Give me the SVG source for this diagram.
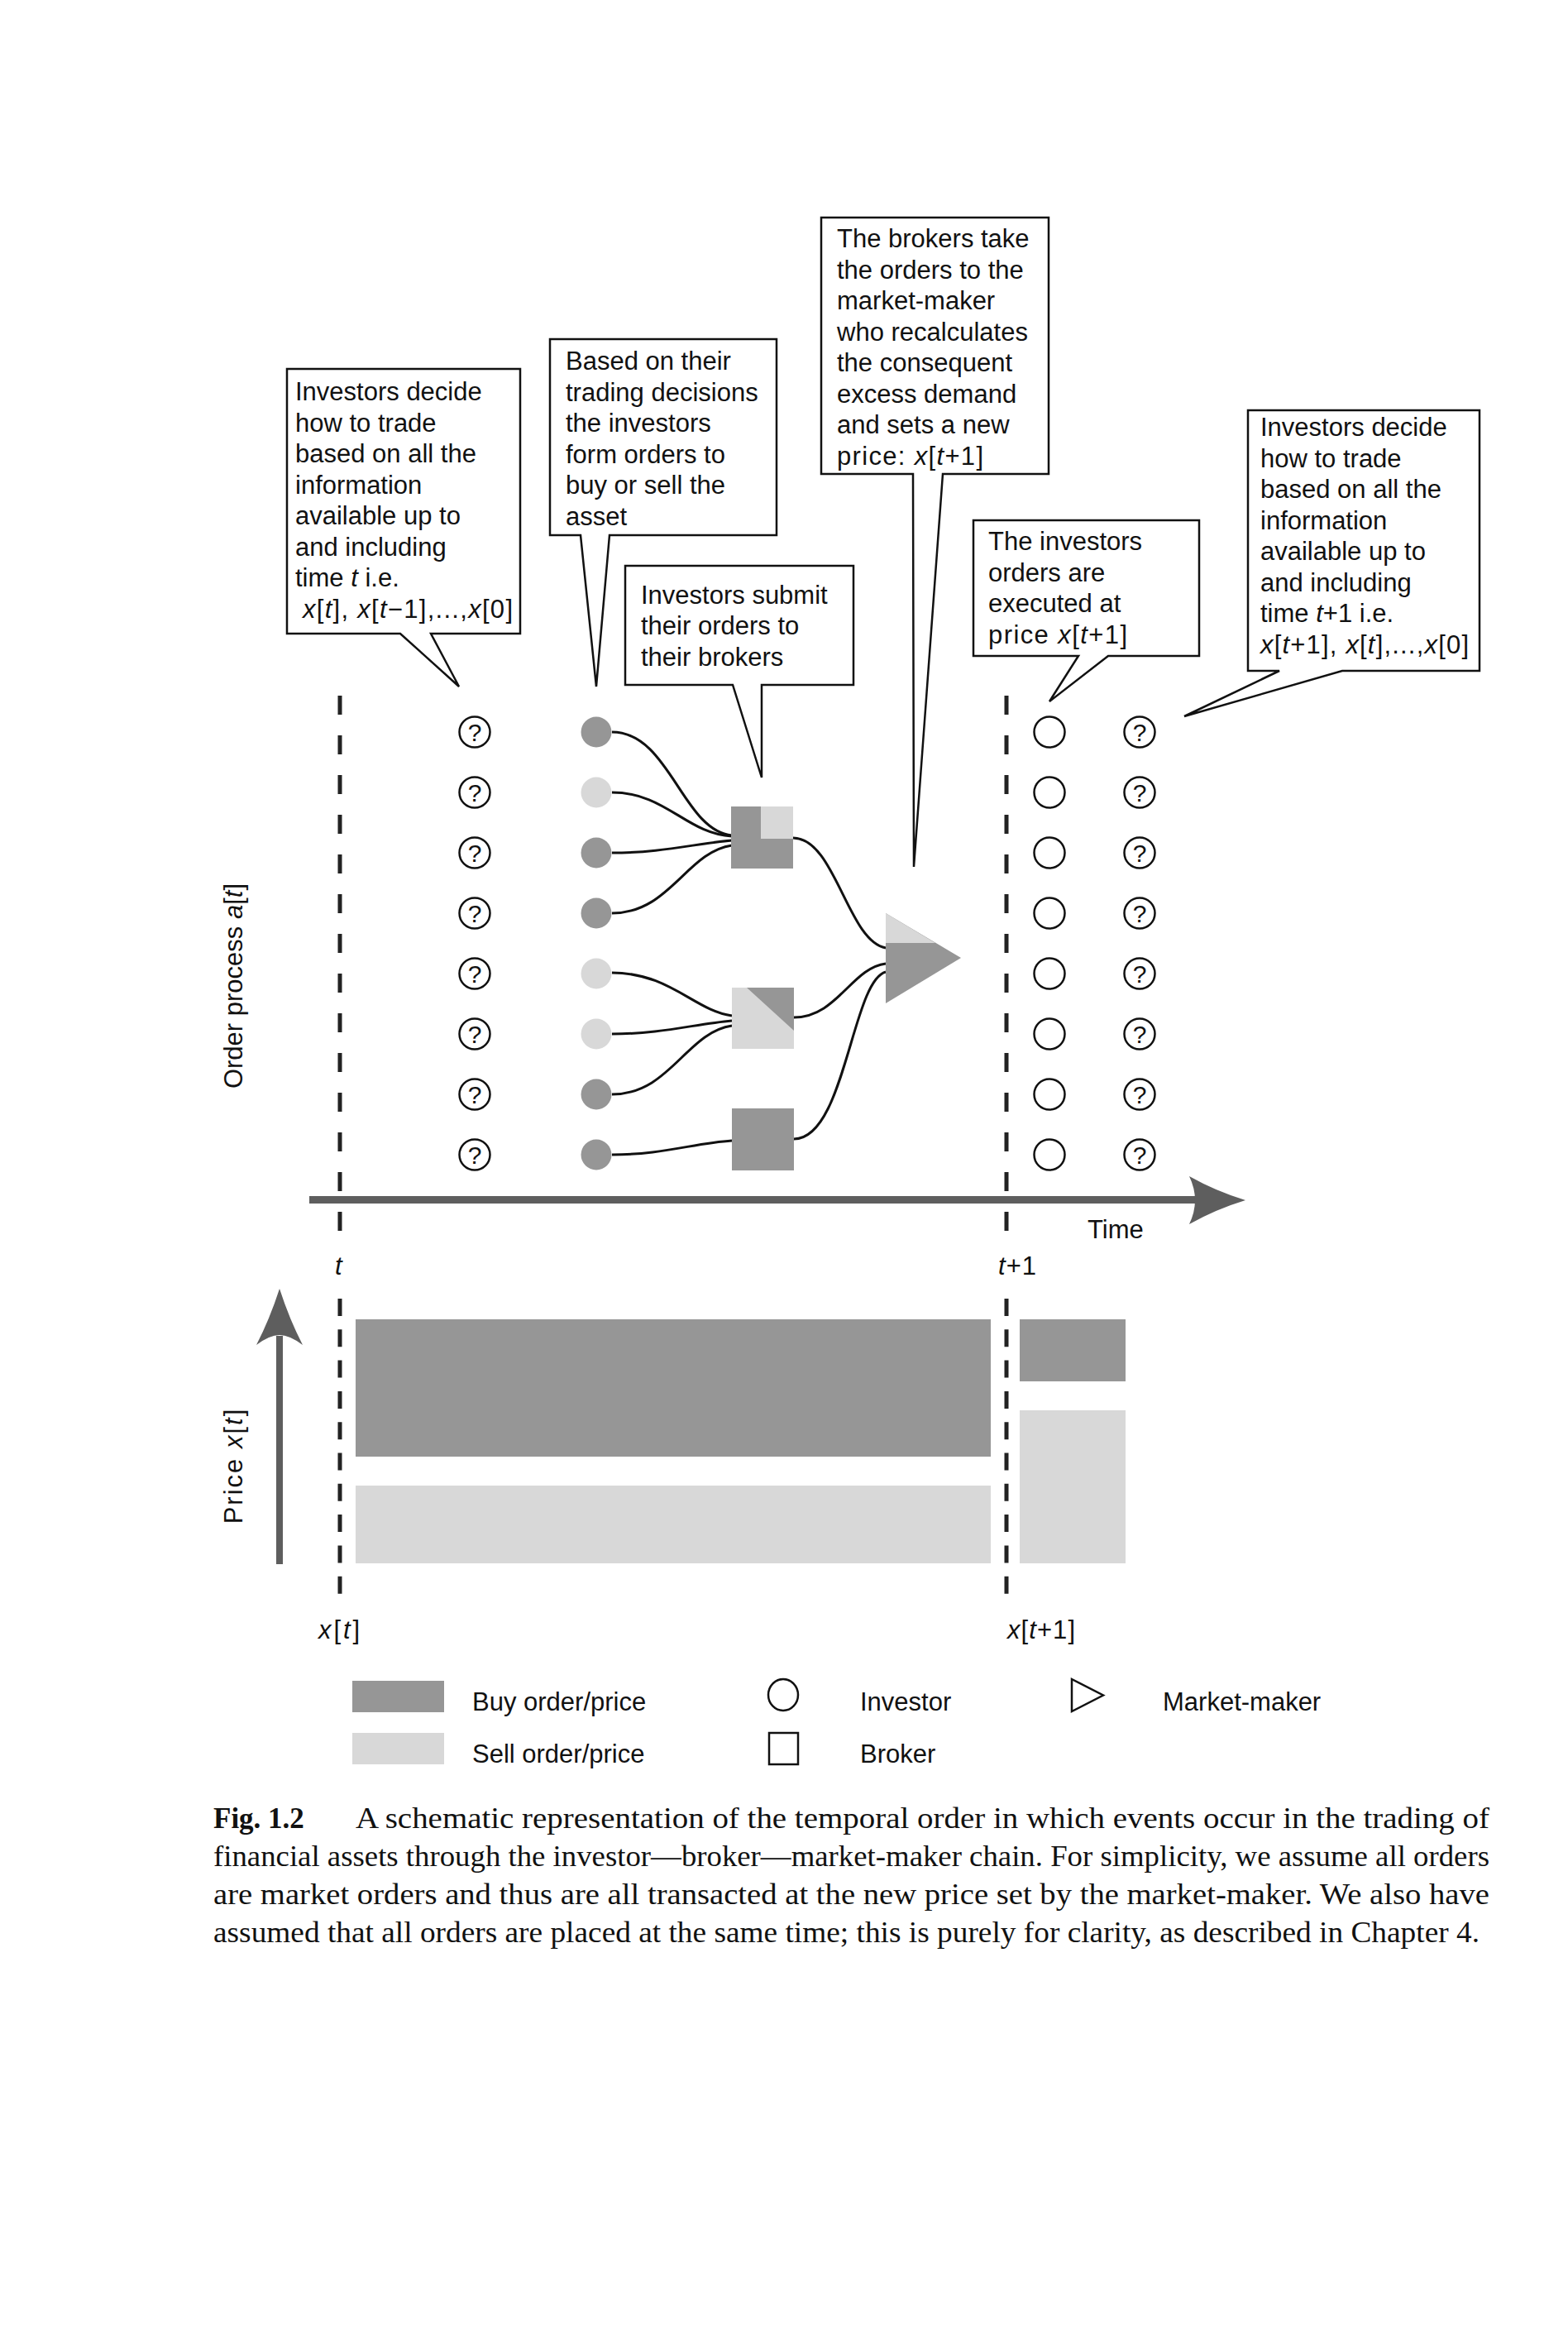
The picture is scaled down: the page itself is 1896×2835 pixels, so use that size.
<svg xmlns="http://www.w3.org/2000/svg" width="1896" height="2835" viewBox="0 0 1896 2835">
<style>
.bx{fill:#fff;stroke:#111;stroke-width:2.5;stroke-linejoin:miter}
.t{font-family:"Liberation Sans",Arial,sans-serif;font-size:31px;fill:#111}
.i{font-style:italic}
.q{font-family:"Liberation Sans",Arial,sans-serif;font-size:30px;fill:#111;text-anchor:middle}
.oc{fill:#fff;stroke:#111;stroke-width:2.5}
.dk{fill:#969696}
.lt{fill:#d8d8d8}
.cn{fill:none;stroke:#111;stroke-width:3}
.dash{stroke:#222;stroke-width:5;fill:none}
.cap{font-family:"Liberation Serif","Times New Roman",serif;font-size:35px;fill:#111}
</style>
<rect width="1896" height="2835" fill="#fff"/>

<!-- dashed time markers -->
<g id="markers">
<line class="dash" x1="411" y1="841" x2="411" y2="1489" stroke-dasharray="23 25"/>
<line class="dash" x1="411" y1="1570" x2="411" y2="1928" stroke-dasharray="21 16.3"/>
<line class="dash" x1="1217" y1="841" x2="1217" y2="1489" stroke-dasharray="23 25"/>
<line class="dash" x1="1217" y1="1570" x2="1217" y2="1928" stroke-dasharray="21 16.3"/>
</g>

<!-- callouts -->
<g id="callout-decide-t">
<path class="bx" d="M347,446 H629 V766 H521 L555,830 L484,766 H347 Z"/>
<text class="t" x="357" y="484">Investors decide</text>
<text class="t" x="357" y="521.5">how to trade</text>
<text class="t" x="357" y="559">based on all the</text>
<text class="t" x="357" y="596.5">information</text>
<text class="t" x="357" y="634">available up to</text>
<text class="t" x="357" y="671.5">and including</text>
<text class="t" x="357" y="709">time <tspan class="i">t</tspan> i.e.</text>
<text class="t" x="366" y="746.5" textLength="254" lengthAdjust="spacing"><tspan class="i">x</tspan>[<tspan class="i">t</tspan>], <tspan class="i">x</tspan>[<tspan class="i">t</tspan>−1],...,<tspan class="i">x</tspan>[0]</text>
</g>

<g id="callout-form-orders">
<path class="bx" d="M665,410 H939 V647 H737 L721,830 L702,647 H665 Z"/>
<text class="t" x="684" y="447">Based on their</text>
<text class="t" x="684" y="484.5">trading decisions</text>
<text class="t" x="684" y="522">the investors</text>
<text class="t" x="684" y="559.5">form orders to</text>
<text class="t" x="684" y="597">buy or sell the</text>
<text class="t" x="684" y="634.5">asset</text>
</g>

<g id="callout-submit">
<path class="bx" d="M756,684 H1032 V828 H921 L921,940 L886,828 H756 Z"/>
<text class="t" x="775" y="729.5">Investors submit</text>
<text class="t" x="775" y="767">their orders to</text>
<text class="t" x="775" y="804.5">their brokers</text>
</g>

<g id="callout-market-maker">
<path class="bx" d="M993,263 H1268 V573 H1140 L1105,1048 L1104,573 H993 Z"/>
<text class="t" x="1012" y="299">The brokers take</text>
<text class="t" x="1012" y="336.5">the orders to the</text>
<text class="t" x="1012" y="374">market-maker</text>
<text class="t" x="1012" y="411.5">who recalculates</text>
<text class="t" x="1012" y="449">the consequent</text>
<text class="t" x="1012" y="486.5">excess demand</text>
<text class="t" x="1012" y="524">and sets a new</text>
<text class="t" x="1012" y="561.5" textLength="177" lengthAdjust="spacing">price: <tspan class="i">x</tspan>[<tspan class="i">t</tspan>+1]</text>
</g>

<g id="callout-executed">
<path class="bx" d="M1177,629 H1450 V793 H1340 L1269,848 L1304,793 H1177 Z"/>
<text class="t" x="1195" y="665">The investors</text>
<text class="t" x="1195" y="702.5">orders are</text>
<text class="t" x="1195" y="740">executed at</text>
<text class="t" x="1195" y="777.5" textLength="168" lengthAdjust="spacing">price <tspan class="i">x</tspan>[<tspan class="i">t</tspan>+1]</text>
</g>

<g id="callout-decide-t1">
<path class="bx" d="M1509,496 H1789 V811 H1623 L1432,866 L1547,811 H1509 Z"/>
<text class="t" x="1524" y="527">Investors decide</text>
<text class="t" x="1524" y="564.5">how to trade</text>
<text class="t" x="1524" y="602">based on all the</text>
<text class="t" x="1524" y="639.5">information</text>
<text class="t" x="1524" y="677">available up to</text>
<text class="t" x="1524" y="714.5">and including</text>
<text class="t" x="1524" y="752">time <tspan class="i">t</tspan>+1 i.e.</text>
<text class="t" x="1524" y="789.5" textLength="252" lengthAdjust="spacing"><tspan class="i">x</tspan>[<tspan class="i">t</tspan>+1], <tspan class="i">x</tspan>[<tspan class="i">t</tspan>],...,<tspan class="i">x</tspan>[0]</text>
</g>

<!-- connectors -->
<g id="connectors">
<path class="cn" d="M740,885 C810,885 825,1004 885,1010"/>
<path class="cn" d="M740,958 C805,958 830,1008 885,1011"/>
<path class="cn" d="M740,1031 C800,1031 840,1020 885,1016"/>
<path class="cn" d="M740,1104 C810,1104 830,1030 885,1022"/>
<path class="cn" d="M740,1176 C810,1176 840,1222 885,1228"/>
<path class="cn" d="M740,1250 C800,1250 840,1238 885,1234"/>
<path class="cn" d="M740,1323 C810,1323 830,1248 885,1240"/>
<path class="cn" d="M740,1396 C800,1396 840,1382 885,1379"/>
<path class="cn" d="M959,1013 C1010,1013 1025,1138 1071,1146"/>
<path class="cn" d="M960,1230 C1012,1230 1030,1170 1071,1165"/>
<path class="cn" d="M960,1377 C1022,1377 1030,1186 1071,1175"/>
</g>

<!-- investors at t (question) -->
<g id="investors-t-undecided">
<circle class="oc" cx="574" cy="885" r="18.5"/><text class="q" x="574" y="896">?</text>
<circle class="oc" cx="574" cy="958" r="18.5"/><text class="q" x="574" y="969">?</text>
<circle class="oc" cx="574" cy="1031" r="18.5"/><text class="q" x="574" y="1042">?</text>
<circle class="oc" cx="574" cy="1104" r="18.5"/><text class="q" x="574" y="1115">?</text>
<circle class="oc" cx="574" cy="1177" r="18.5"/><text class="q" x="574" y="1188">?</text>
<circle class="oc" cx="574" cy="1250" r="18.5"/><text class="q" x="574" y="1261">?</text>
<circle class="oc" cx="574" cy="1323" r="18.5"/><text class="q" x="574" y="1334">?</text>
<circle class="oc" cx="574" cy="1396" r="18.5"/><text class="q" x="574" y="1407">?</text>
</g>

<!-- investors with orders -->
<g id="investors-orders">
<circle class="dk" cx="721" cy="885" r="18.5"/>
<circle class="lt" cx="721" cy="958" r="18.5"/>
<circle class="dk" cx="721" cy="1031" r="18.5"/>
<circle class="dk" cx="721" cy="1104" r="18.5"/>
<circle class="lt" cx="721" cy="1177" r="18.5"/>
<circle class="lt" cx="721" cy="1250" r="18.5"/>
<circle class="dk" cx="721" cy="1323" r="18.5"/>
<circle class="dk" cx="721" cy="1396" r="18.5"/>
</g>

<!-- brokers -->
<g id="broker-1">
<rect class="dk" x="884" y="975" width="75" height="75"/>
<rect class="lt" x="920" y="975" width="39" height="39"/>
</g>
<g id="broker-2">
<rect class="lt" x="885" y="1194" width="75" height="74"/>
<polygon class="dk" points="903,1194 960,1194 960,1246"/>
</g>
<g id="broker-3">
<rect class="dk" x="885" y="1340" width="75" height="75"/>
</g>

<!-- market maker -->
<g id="market-maker">
<polygon class="dk" points="1071,1104 1162,1158 1071,1213"/>
<polygon class="lt" points="1071,1104 1131,1140 1071,1140"/>
</g>

<!-- investors at t+1 -->
<g id="investors-t1-executed">
<circle class="oc" cx="1269" cy="885" r="18.5"/>
<circle class="oc" cx="1269" cy="958" r="18.5"/>
<circle class="oc" cx="1269" cy="1031" r="18.5"/>
<circle class="oc" cx="1269" cy="1104" r="18.5"/>
<circle class="oc" cx="1269" cy="1177" r="18.5"/>
<circle class="oc" cx="1269" cy="1250" r="18.5"/>
<circle class="oc" cx="1269" cy="1323" r="18.5"/>
<circle class="oc" cx="1269" cy="1396" r="18.5"/>
</g>
<g id="investors-t1-undecided">
<circle class="oc" cx="1378" cy="885" r="18.5"/><text class="q" x="1378" y="896">?</text>
<circle class="oc" cx="1378" cy="958" r="18.5"/><text class="q" x="1378" y="969">?</text>
<circle class="oc" cx="1378" cy="1031" r="18.5"/><text class="q" x="1378" y="1042">?</text>
<circle class="oc" cx="1378" cy="1104" r="18.5"/><text class="q" x="1378" y="1115">?</text>
<circle class="oc" cx="1378" cy="1177" r="18.5"/><text class="q" x="1378" y="1188">?</text>
<circle class="oc" cx="1378" cy="1250" r="18.5"/><text class="q" x="1378" y="1261">?</text>
<circle class="oc" cx="1378" cy="1323" r="18.5"/><text class="q" x="1378" y="1334">?</text>
<circle class="oc" cx="1378" cy="1396" r="18.5"/><text class="q" x="1378" y="1407">?</text>
</g>

<!-- axes -->
<g id="time-axis">
<rect x="374" y="1446" width="1075" height="9" fill="#5e5e5e"/>
<path d="M1438,1422 Q1470,1440 1506,1451 Q1470,1462 1438,1480 Q1452,1451 1438,1422 Z" fill="#5e5e5e"/>
<text class="t" x="1315" y="1497">Time</text>
<text class="t i" x="405" y="1541">t</text>
<text class="t" x="1207" y="1541" textLength="46" lengthAdjust="spacing"><tspan class="i">t</tspan>+1</text>
</g>
<g id="order-axis-label">
<text class="t" font-size="30" text-anchor="middle" transform="translate(293,1192) rotate(-90)">Order process <tspan class="i">a</tspan>[<tspan class="i">t</tspan>]</text>
</g>
<g id="price-axis">
<rect x="334" y="1615" width="8" height="276" fill="#5e5e5e"/>
<path d="M338,1558 Q350,1595 366,1626 Q350,1614 338,1614 Q326,1614 310,1626 Q326,1595 338,1558 Z" fill="#5e5e5e"/>
<text class="t" font-size="30" letter-spacing="2" text-anchor="middle" transform="translate(293,1772) rotate(-90)">Price <tspan class="i">x</tspan>[<tspan class="i">t</tspan>]</text>
</g>

<!-- price bars -->
<g id="price-bars">
<rect class="dk" x="430" y="1595" width="768" height="166"/>
<rect class="lt" x="430" y="1796" width="768" height="94"/>
<rect class="dk" x="1233" y="1595" width="128" height="75"/>
<rect class="lt" x="1233" y="1705" width="128" height="185"/>
<text class="t" x="385" y="1981" textLength="50" lengthAdjust="spacing"><tspan class="i">x</tspan>[<tspan class="i">t</tspan>]</text>
<text class="t" x="1218" y="1981" textLength="82" lengthAdjust="spacing"><tspan class="i">x</tspan>[<tspan class="i">t</tspan>+1]</text>
</g>

<!-- legend -->
<g id="legend">
<rect class="dk" x="426" y="2032" width="111" height="38"/>
<text class="t" x="571" y="2068">Buy order/price</text>
<rect class="lt" x="426" y="2095" width="111" height="38"/>
<text class="t" x="571" y="2131">Sell order/price</text>
<ellipse class="oc" cx="947" cy="2049" rx="18" ry="19"/>
<text class="t" x="1040" y="2068">Investor</text>
<rect class="oc" x="930" y="2095" width="35" height="38"/>
<text class="t" x="1040" y="2131">Broker</text>
<polygon class="oc" points="1296,2030 1334,2049.5 1296,2069"/>
<text class="t" x="1406" y="2068">Market-maker</text>
</g>

<!-- caption -->
<g id="caption">
<text class="cap" x="258" y="2210" font-weight="bold" font-size="37">Fig. 1.2</text>
<text class="cap" x="430" y="2210" textLength="1371" lengthAdjust="spacingAndGlyphs">A schematic representation of the temporal order in which events occur in the trading of</text>
<text class="cap" x="258" y="2256" textLength="1543" lengthAdjust="spacingAndGlyphs">financial assets through the investor—broker—market-maker chain. For simplicity, we assume all orders</text>
<text class="cap" x="258" y="2302" textLength="1543" lengthAdjust="spacingAndGlyphs">are market orders and thus are all transacted at the new price set by the market-maker. We also have</text>
<text class="cap" x="258" y="2348" textLength="1531" lengthAdjust="spacingAndGlyphs">assumed that all orders are placed at the same time; this is purely for clarity, as described in Chapter 4.</text>
</g>
</svg>
